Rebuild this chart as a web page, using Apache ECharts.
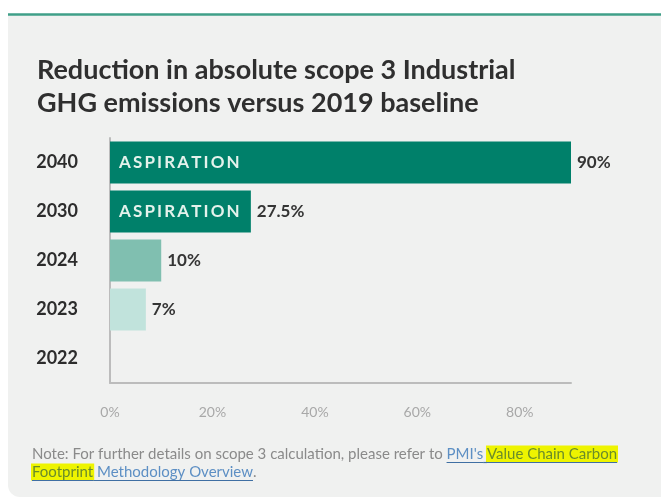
<!DOCTYPE html>
<html>
<head>
<meta charset="utf-8">
<script src="https://cdn.jsdelivr.net/npm/echarts@6/dist/echarts.min.js"></script>
<style>
html,body{margin:0;padding:0;background:#fff;}
#chart{width:661px;height:502px;}
</style>
</head>
<body>
<div id="chart"></div>
<script>
// ---- data ----
var years = ['2040', '2030', '2024', '2023', '2022'];
var reductions = [90, 27.5, 10, 7, null];
var statusTags = ['ASPIRATION', 'ASPIRATION', '', '', ''];
var xTickValues = [0, 20, 40, 60, 80];
var titleText = 'Reduction in absolute scope 3 Industrial\nGHG emissions versus 2019 baseline';
var noteLine1 = [
  ['Note: For further details on scope 3 calculation, please refer to ', 'plain'],
  ["PMI's", 'link'],
  [' ', 'link'],
  ['Value Chain Carbon', 'hl']
];
var noteLine2 = [
  ['Footprint', 'hl'],
  [' Methodology Overview', 'link'],
  ['.', 'plain']
];
// ---- styles ----
var barColors = ['#00806a', '#00806a', '#80bfb0', '#c1e3dc', '#c1e3dc'];

var chart = echarts.init(document.getElementById('chart'), null, {renderer: 'canvas'});

function spaced(s) { return s.split('').join('\u2009'); }

// note graphic built from text measurement
var noteFont = '15px Lato';
var ctx = document.createElement('canvas').getContext('2d');
ctx.font = noteFont;
var segStyles = {
  plain: {fill: '#8a8a8a', underline: null, bg: null},
  link: {fill: '#5d8fc4', underline: '#3f6fa3', bg: null},
  hl: {fill: '#6a8c2a', underline: '#3f6fa3', bg: '#eef400'}
};
var noteEls = [];
function buildLine(segs, x0, yMid) {
  var x = x0;
  segs.forEach(function (s) {
    var w = ctx.measureText(s[0]).width;
    var st = segStyles[s[1]];
    if (st.bg) {
      noteEls.push({type: 'rect', shape: {x: x - 1, y: yMid - 8.5, width: w + 2, height: 17}, style: {fill: st.bg}, z: 1});
    }
    noteEls.push({type: 'text', x: x, y: yMid, style: {text: s[0], font: noteFont, fill: st.fill, verticalAlign: 'middle', align: 'left'}, z: 3});
    if (st.underline) {
      noteEls.push({type: 'line', shape: {x1: x, y1: yMid + 8.5, x2: x + w, y2: yMid + 8.5}, style: {stroke: st.underline, lineWidth: 1.2}, z: 2});
    }
    x += w;
  });
}
buildLine(noteLine1, 32, 454);
buildLine(noteLine2, 32, 472);

var option = {
  backgroundColor: '#ffffff',
  animation: false,
  title: {
    text: titleText,
    left: 32,
    top: 49,
    textStyle: {fontFamily: 'Lato', fontWeight: 'bold', fontSize: 27, lineHeight: 33, color: '#2f2f2f'}
  },
  graphic: [
    {type: 'rect', shape: {x: 8, y: 15, width: 660, height: 482, r: [0, 0, 0, 12]}, style: {fill: '#f0f1f0'}, z: -10, silent: true},
    {type: 'line', shape: {x1: 8, y1: 14.5, x2: 661, y2: 14.5}, style: {stroke: '#3f9f88', lineWidth: 2.5}, z: -9, silent: true}
  ].concat(noteEls),
  grid: {left: 110, right: 90, top: 138, bottom: 119, containLabel: false},
  xAxis: {
    type: 'value',
    min: 0,
    max: 90,
    interval: 20,
    axisLine: {show: true, lineStyle: {color: '#bcbcbc', width: 2}},
    axisTick: {show: false},
    splitLine: {show: false},
    axisLabel: {
      showMaxLabel: false,
      margin: 22,
      color: '#a8a8a8',
      fontFamily: 'Lato',
      fontSize: 14,
      formatter: function (v) { return xTickValues.indexOf(v) >= 0 ? v + '%' : ''; }
    }
  },
  yAxis: {
    type: 'category',
    inverse: true,
    data: years,
    axisLine: {show: true, lineStyle: {color: '#bcbcbc', width: 2}},
    axisTick: {show: false},
    axisLabel: {margin: 32, color: '#2c2c2c', fontFamily: 'Lato', fontWeight: 'bold', fontSize: 18}
  },
  series: [
    {
      type: 'bar',
      barWidth: 42,
      data: reductions.map(function (v, i) { return {value: v, itemStyle: {color: barColors[i]}}; }),
      label: {
        show: true,
        position: 'right',
        distance: 6,
        color: '#353535',
        fontFamily: 'Lato',
        fontWeight: 'bold',
        fontSize: 17,
        formatter: function (p) { return p.value == null ? '' : p.value + '%'; }
      },
      z: 2
    },
    {
      type: 'bar',
      barWidth: 42,
      barGap: '-100%',
      silent: true,
      data: reductions,
      itemStyle: {color: 'rgba(0,0,0,0)'},
      label: {
        show: true,
        position: 'insideLeft',
        distance: 9,
        color: '#e4f2ec',
        fontFamily: 'Lato',
        fontWeight: 'bold',
        fontSize: 17,
        formatter: function (p) { return statusTags[p.dataIndex] ? spaced(statusTags[p.dataIndex]) : ''; }
      },
      z: 3
    }
  ]
};
chart.setOption(option);
</script>
</body>
</html>
